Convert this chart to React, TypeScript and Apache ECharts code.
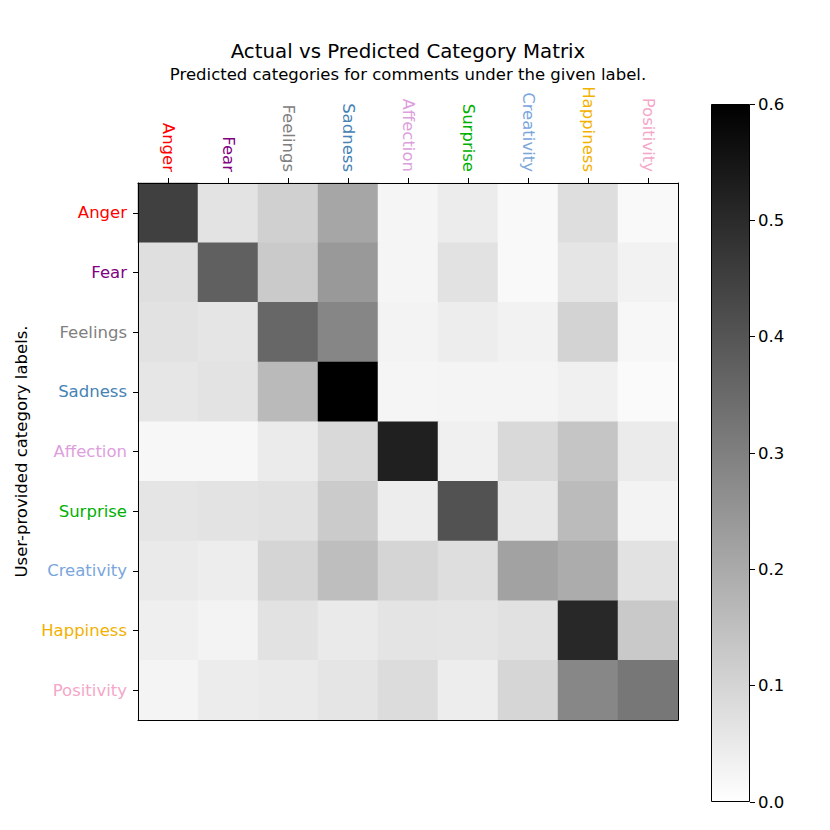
import React, { useEffect, useRef } from "react";
import * as echarts from "echarts";

const categories = ["Anger", "Fear", "Feelings", "Sadness", "Affection", "Surprise", "Creativity", "Happiness", "Positivity"];
const labelColors = ["#ff0000", "#800080", "#808080", "#4682b4", "#dda0dd", "#00b000", "#7aa6dc", "#f2b100", "#f4a7c8"];

// rows: user-provided label (actual), columns: predicted category
const rowAnger = [0.449, 0.066, 0.111, 0.209, 0.024, 0.045, 0.014, 0.078, 0.014];
const rowFear = [0.075, 0.374, 0.125, 0.240, 0.024, 0.068, 0.014, 0.061, 0.031];
const rowFeelings = [0.068, 0.061, 0.358, 0.285, 0.028, 0.042, 0.031, 0.104, 0.019];
const rowSadness = [0.059, 0.066, 0.162, 0.600, 0.024, 0.026, 0.026, 0.035, 0.012];
const rowAffection = [0.019, 0.019, 0.047, 0.089, 0.525, 0.035, 0.089, 0.136, 0.047];
const rowSurprise = [0.061, 0.066, 0.071, 0.122, 0.042, 0.407, 0.056, 0.160, 0.028];
const rowCreativity = [0.049, 0.042, 0.099, 0.153, 0.099, 0.078, 0.219, 0.195, 0.068];
const rowHappiness = [0.038, 0.028, 0.068, 0.049, 0.064, 0.061, 0.071, 0.506, 0.127];
const rowPositivity = [0.026, 0.045, 0.049, 0.061, 0.082, 0.042, 0.096, 0.282, 0.320];
const matrix = [rowAnger, rowFear, rowFeelings, rowSadness, rowAffection, rowSurprise, rowCreativity, rowHappiness, rowPositivity];

const colorbarMax = 0.6;
const colorbarTickStep = 0.1;

const FONT = "DejaVu Sans";
const TICK_FS = 16.5;

export default function App() {
  const ref = useRef<HTMLDivElement>(null);
  useEffect(() => {
    if (!ref.current) return;
    const chart = echarts.init(ref.current, undefined, { renderer: "svg" });
    const data: any[] = [];
    matrix.forEach((row, r) => row.forEach((v, c) => data.push([c, r, v])));
    const option: any = {
      animation: false,
      backgroundColor: "#ffffff",
      textStyle: { fontFamily: FONT },
      title: {
        text: "Actual vs Predicted Category Matrix",
        subtext: "Predicted categories for comments under the given label.",
        left: 403,
        top: 36,
        textAlign: "center",
        itemGap: 5,
        textStyle: { fontFamily: FONT, fontSize: 19.8, fontWeight: "normal", color: "#000" },
        subtextStyle: { fontFamily: FONT, fontSize: 16.5, color: "#000" },
      },
      grid: [
        { left: 138, top: 183, width: 540, height: 537 },
        { left: 711, top: 104, width: 39, height: 698 },
      ],
      xAxis: [
        {
          type: "category",
          data: categories,
          gridIndex: 0,
          position: "top",
          z: 10,
          axisLine: { show: true, lineStyle: { color: "#000", width: 1 } },
          axisTick: { show: true, alignWithLabel: true, length: 5, lineStyle: { color: "#000" } },
          axisLabel: {
            rotate: 90,
            margin: 11,
            fontSize: TICK_FS,
            fontFamily: FONT,
            color: (_v: any, i: number) => labelColors[i],
          },
          splitLine: { show: false },
        },
        {
          type: "category",
          data: categories,
          gridIndex: 0,
          position: "bottom",
          z: 10,
          axisLine: { show: true, lineStyle: { color: "#000", width: 1 } },
          axisTick: { show: false },
          axisLabel: { show: false },
        },
        {
          type: "category",
          data: ["cb"],
          gridIndex: 1,
          show: false,
        },
      ],
      yAxis: [
        {
          type: "category",
          data: categories,
          gridIndex: 0,
          inverse: true,
          z: 10,
          name: "User-provided category labels.",
          nameLocation: "middle",
          nameGap: 104,
          nameRotate: 90,
          nameTextStyle: { fontFamily: FONT, fontSize: TICK_FS, color: "#000" },
          axisLine: { show: true, lineStyle: { color: "#000", width: 1 } },
          axisTick: { show: true, alignWithLabel: true, length: 5, lineStyle: { color: "#000" } },
          axisLabel: {
            margin: 11,
            fontSize: TICK_FS,
            fontFamily: FONT,
            color: (_v: any, i: number) => labelColors[i],
          },
          splitLine: { show: false },
        },
        {
          type: "category",
          data: categories,
          gridIndex: 0,
          inverse: true,
          position: "right",
          z: 10,
          axisLine: { show: true, lineStyle: { color: "#000", width: 1 } },
          axisTick: { show: false },
          axisLabel: { show: false },
        },
        {
          type: "value",
          gridIndex: 1,
          min: 0,
          max: colorbarMax,
          interval: colorbarTickStep,
          position: "right",
          z: 10,
          axisLine: { show: false },
          axisTick: { show: true, length: 5, lineStyle: { color: "#000" } },
          axisLabel: {
            margin: 8,
            fontSize: TICK_FS,
            fontFamily: FONT,
            color: "#000",
            formatter: (v: number) => v.toFixed(1),
          },
          splitLine: { show: false },
        },
      ],
      visualMap: {
        show: false,
        type: "continuous",
        min: 0,
        max: colorbarMax,
        seriesIndex: 0,
        dimension: 2,
        inRange: { color: ["#ffffff", "#000000"] },
      },
      series: [
        {
          type: "heatmap",
          xAxisIndex: 0,
          yAxisIndex: 0,
          data,
          itemStyle: { borderWidth: 0 },
          emphasis: { disabled: true },
        },
        {
          type: "bar",
          xAxisIndex: 2,
          yAxisIndex: 2,
          data: [colorbarMax],
          barWidth: "100%",
          itemStyle: {
            borderColor: "#000",
            borderWidth: 1,
            color: new echarts.graphic.LinearGradient(0, 0, 0, 1, [
              { offset: 0, color: "#000000" },
              { offset: 1, color: "#ffffff" },
            ]),
          },
          emphasis: { disabled: true },
        },
      ],
    };
    chart.setOption(option);
    return () => chart.dispose();
  }, []);
  return (
    <div
      ref={ref}
      style={{ position: "fixed", left: 0, top: 0, width: 830, height: 830 }}
    />
  );
}
